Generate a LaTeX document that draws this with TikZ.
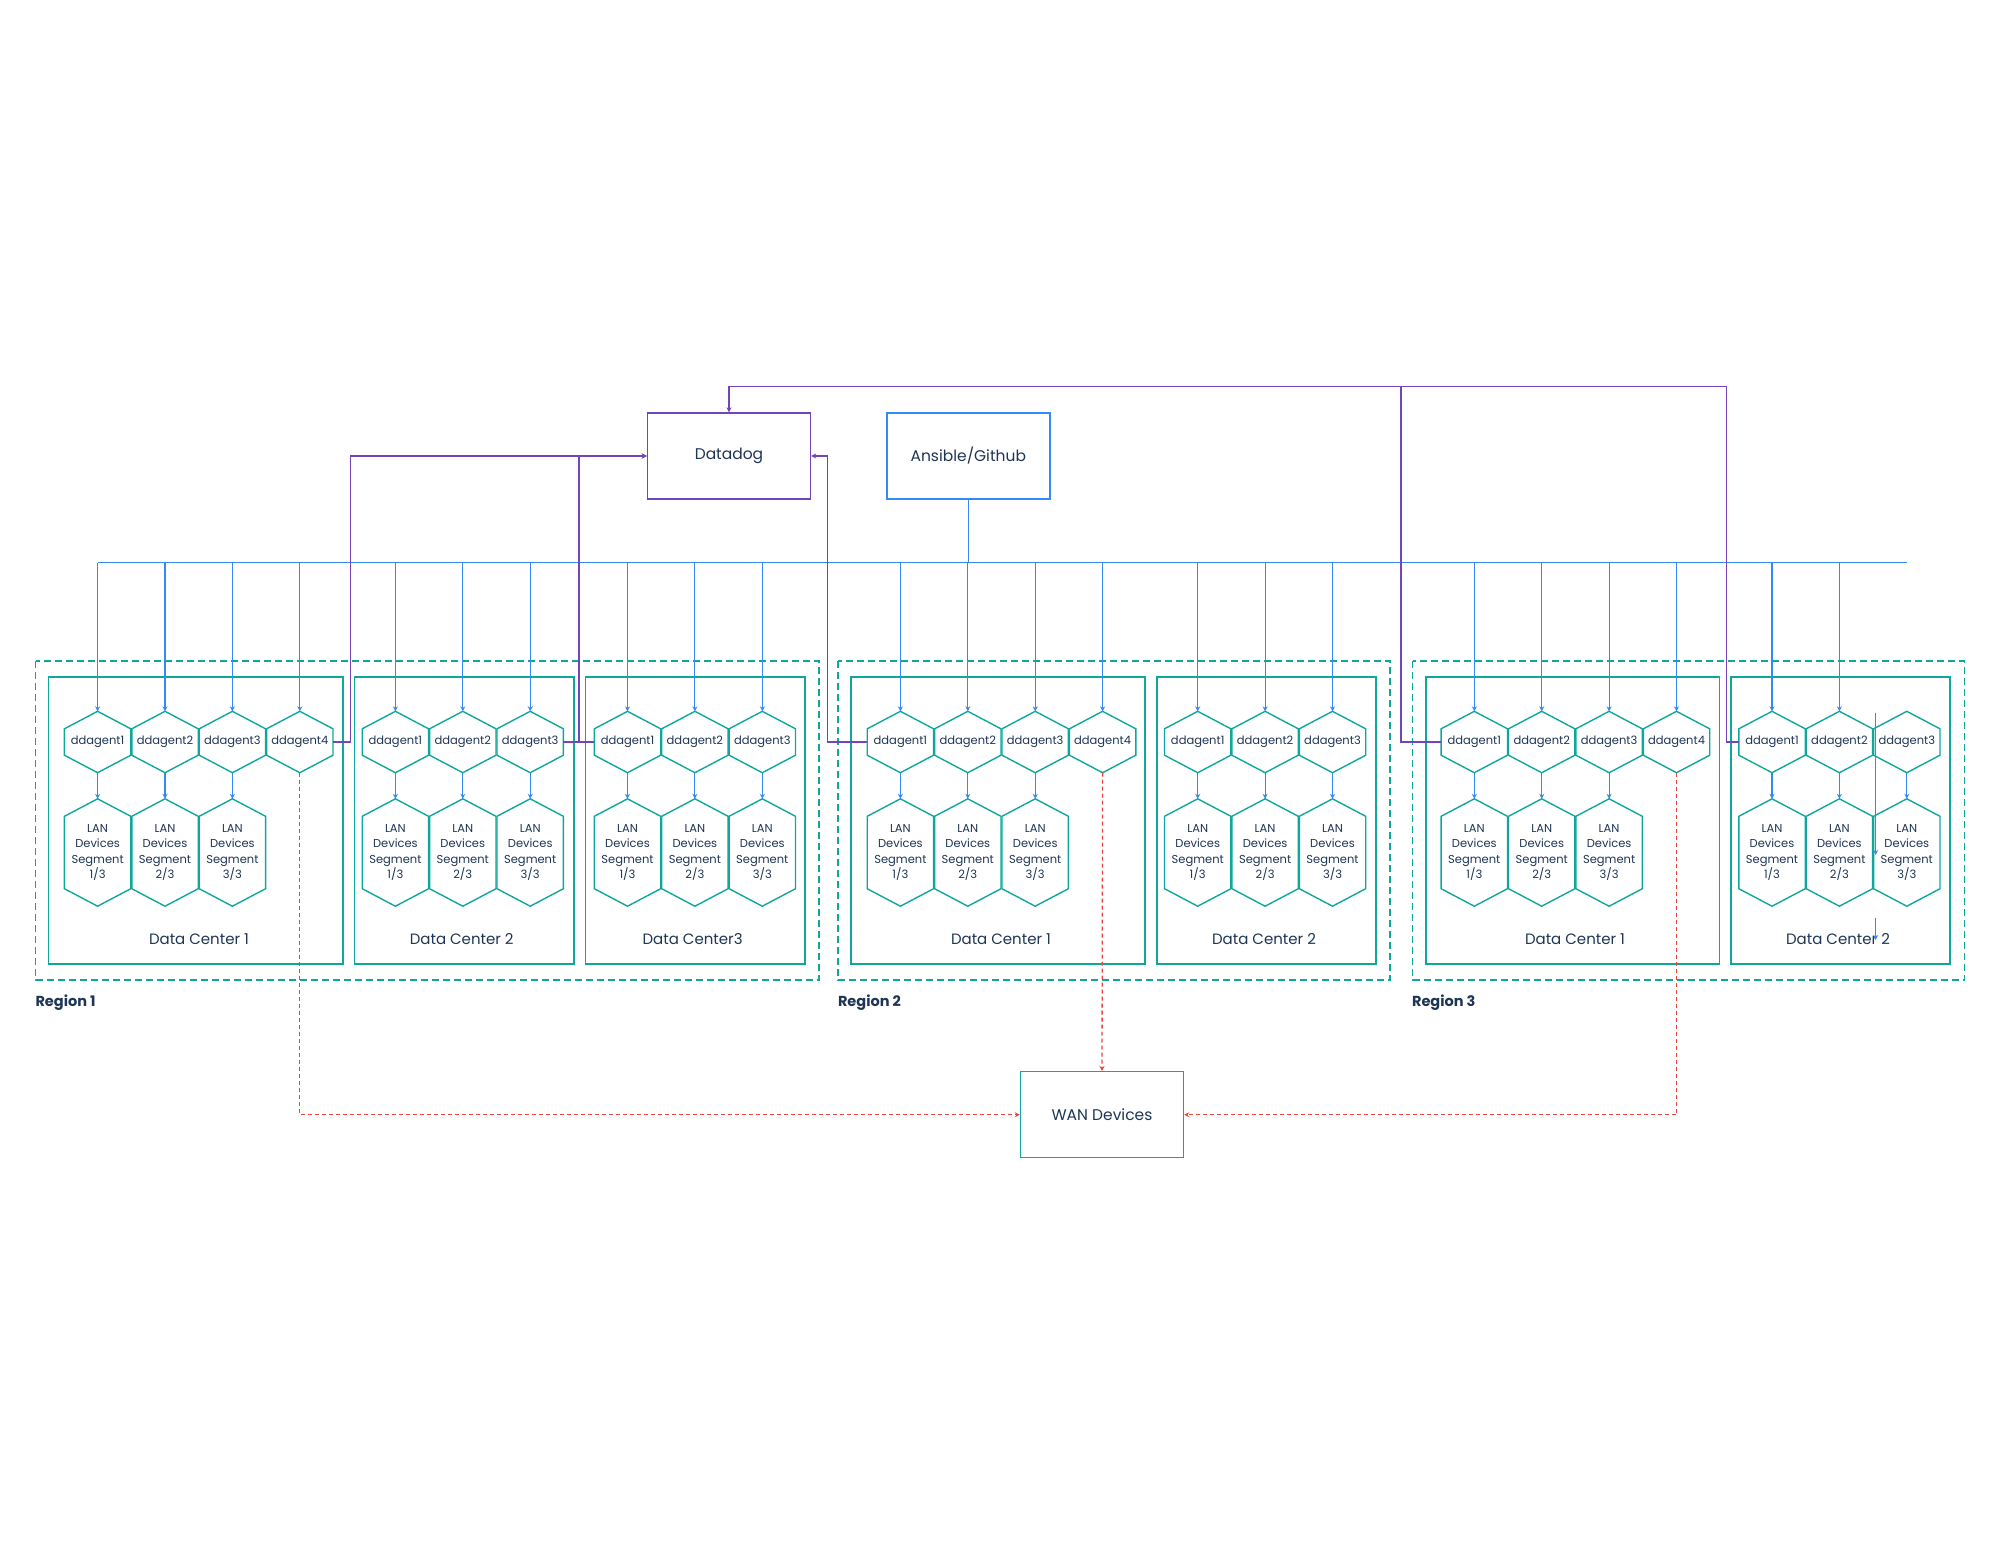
\documentclass[tikz,border=0pt]{standalone}
\usepackage{fontspec}
\setmainfont{Poppins}
\usetikzlibrary{arrows.meta,calc}
\definecolor{dcteal}{HTML}{0FA79C}
\definecolor{pushblue}{HTML}{3589F6}
\definecolor{metricpurple}{HTML}{7445B9}
\definecolor{wanred}{HTML}{E8453E}
\definecolor{ink}{HTML}{1E3555}

\begin{document}
\begin{tikzpicture}[x=1pt,y=-1pt,
  hexnode/.style={inner sep=0pt,text=ink,
    append after command={\pgfextra{
      \draw[dcteal,line width=1.4pt,line join=miter] (\tikzlastnode.north)
        -- ([yshift=-#1pt]\tikzlastnode.north east)
        -- ([yshift=#1pt]\tikzlastnode.south east)
        -- (\tikzlastnode.south)
        -- ([yshift=#1pt]\tikzlastnode.south west)
        -- ([yshift=-#1pt]\tikzlastnode.north west) -- cycle;}}},
  agent/.style={hexnode=17.5,minimum width=66pt,minimum height=61pt,font=\fontsize{11.5}{14}\selectfont},
  lan/.style={hexnode=17.5,minimum width=66pt,minimum height=107pt,align=center,font=\fontsize{11.5}{15.3}\selectfont},
  box/.style={draw,line width=1.4pt,minimum width=163pt,minimum height=86pt,text=ink,font=\fontsize{15.5}{18}\selectfont},
  dcbox/.style={draw=dcteal,line width=1.4pt},
  regionbox/.style={draw=dcteal,line width=1.4pt,dash pattern=on 7pt off 4pt},
  dclabel/.style={text=ink,font=\fontsize{15}{18}\selectfont},
  regionlabel/.style={anchor=west,text=ink,font=\fontsize{14.5}{17}\selectfont\bfseries},
  push/.style={-{Stealth[length=5pt,width=5pt]},pushblue,line width=1.1pt},
  metric/.style={-{Stealth[length=5pt,width=5pt]},metricpurple,line width=1.3pt},
  wan/.style={-{Stealth[length=5pt,width=5pt]},wanred,line width=1.3pt,dash pattern=on 4pt off 3pt}]
  \useasboundingbox (0,0) rectangle (2000,1545);

  % regions and data centers
  \draw[regionbox] (35.7,661) rectangle (819,980);
  \draw[regionbox] (838,661) rectangle (1390,980);
  \draw[regionbox] (1412.7,661) rectangle (1964.5,980);
  \draw[dcbox] (48.5,677) rectangle (343,964);
  \draw[dcbox] (354.6,677) rectangle (574,964);
  \draw[dcbox] (585.5,677) rectangle (805,964);
  \draw[dcbox] (851,677) rectangle (1145,964);
  \draw[dcbox] (1157,677) rectangle (1376,964);
  \draw[dcbox] (1426,677) rectangle (1719.5,964);
  \draw[dcbox] (1731,677) rectangle (1950,964);
  \node[dclabel] (r1c1lbl) at (199,939) {Data Center 1};
  \node[dclabel] (r1c2lbl) at (461.7,939) {Data Center 2};
  \node[dclabel] (r1c3lbl) at (692.6,939) {Data Center3};
  \node[dclabel] (r2c1lbl) at (1001,939) {Data Center 1};
  \node[dclabel] (r2c2lbl) at (1264,939) {Data Center 2};
  \node[dclabel] (r3c1lbl) at (1575,939) {Data Center 1};
  \node[dclabel] (r3c2lbl) at (1838,939) {Data Center 2};
  \node[regionlabel] (reg1) at (32,1003) {Region 1};
  \node[regionlabel] (reg2) at (834.5,1003) {Region 2};
  \node[regionlabel] (reg3) at (1408.5,1003) {Region 3};

  % agents and LAN segments
  \foreach \dc/\x/\n in {r1c1/97.6/4,r1c2/395.4/3,r1c3/627.5/3,r2c1/900.4/4,r2c2/1197.7/3,r3c1/1474.3/4,r3c2/1772/3} {
    \foreach \k in {1,...,\n}
      \node[agent] (\dc a\k) at ({\x+67.4*(\k-1)},742) {ddagent\k};
    \foreach \k in {1,2,3} {
      \node[lan] (\dc l\k) at ({\x+67.4*(\k-1)},852.5) {LAN\\Devices\\Segment\\\k/3};
      \draw[push] (\dc a\k) -- (\dc l\k);
    }
  }

  % top boxes
  \node[box,draw=metricpurple] (datadog) at (729,456) {Datadog};
  \node[box,draw=pushblue] (ansible) at (968.3,456) {Ansible/Github};
  \node[box,draw=dcteal] (wandev) at (1102,1114.7) {WAN Devices};

  % config push bus
  \coordinate (bus) at (0,562.6);
  \draw[pushblue,line width=1.1pt] (r1c1a1 |- bus) -- (r3c2a3 |- bus);
  \draw[pushblue,line width=1.1pt] (ansible) -- (ansible |- bus);
  \foreach \a in {r1c1a1,r1c1a2,r1c1a3,r1c1a4,r1c2a1,r1c2a2,r1c2a3,r1c3a1,r1c3a2,r1c3a3,
                  r2c1a1,r2c1a2,r2c1a3,r2c1a4,r2c2a1,r2c2a2,r2c2a3,r3c1a1,r3c1a2,r3c1a3,r3c1a4,r3c2a1,r3c2a2}
    \draw[push] (\a |- bus) -- (\a);
  \coordinate (stray1) at (1875.7,712.7);
  \coordinate (stray2) at (1875.7,855);
  \coordinate (stray3) at (1875.7,917.7);
  \coordinate (stray4) at (1875.7,940);
  \draw[push] (stray1) -- (stray2);
  \draw[push] (stray3) -- (stray4);

  % metrics to Datadog
  \coordinate (feed) at (729,386.7);
  \draw[metric] (r1c1a4.east) -- ++(17.2,0) |- (datadog.west);
  \draw[metricpurple,line width=1.3pt] (r1c2a3.east) -- (r1c3a1.west);
  \draw[metric] ($(r1c2a3.east)!0.5!(r1c3a1.west)$) |- (datadog.west);
  \draw[metric] (r2c1a1.west) -- ++(-39.8,0) |- (datadog.east);
  \draw[metricpurple,line width=1.3pt] (r3c1a1.west) -- ++(-40,0) |- (feed);
  \draw[metric] (r3c2a1.west) -- ++(-12.5,0) |- (feed) -- (datadog.north);

  % WAN links
  \draw[wan] (r1c1a4.south) |- (wandev.west);
  \draw[wan] (r2c1a4.south) -- (wandev.north);
  \draw[wan] (r3c1a4.south) |- (wandev.east);
\end{tikzpicture}
\end{document}
